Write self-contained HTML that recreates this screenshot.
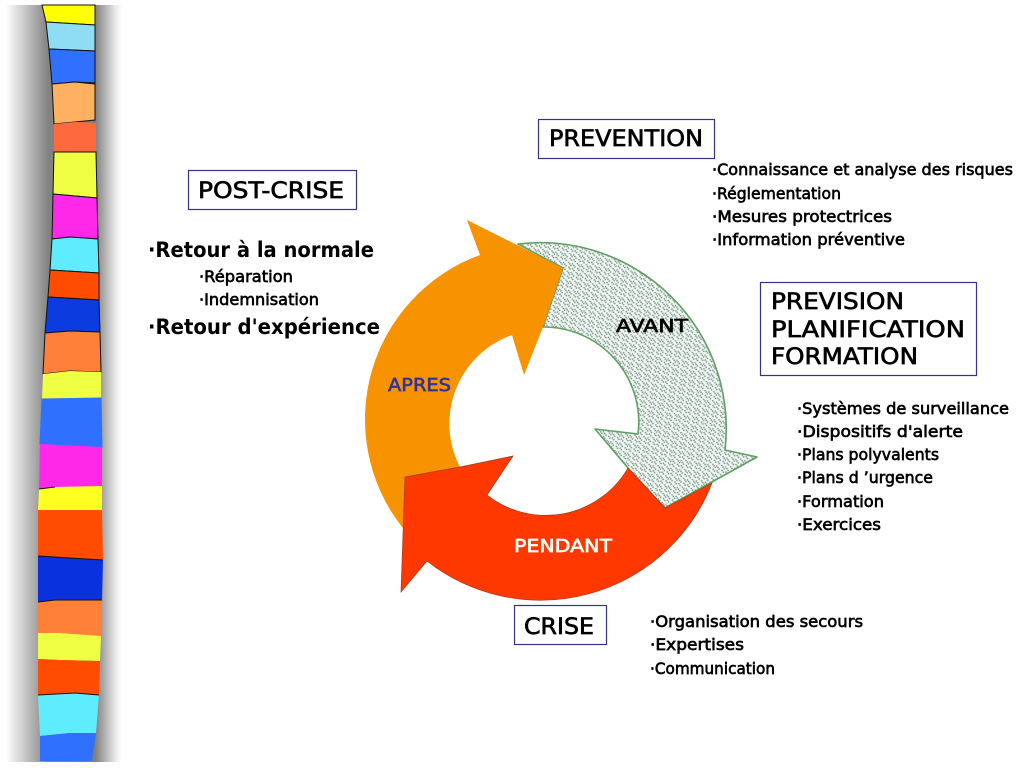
<!DOCTYPE html>
<html><head><meta charset="utf-8"><style>
html,body{margin:0;padding:0;background:#fff;width:1024px;height:768px;overflow:hidden}
svg{display:block}
text{font-family:"DejaVu Sans","Liberation Sans",sans-serif;fill:#000;stroke:#000;stroke-width:.65px}
</style></head><body>
<svg width="1024" height="768" viewBox="0 0 1024 768" xmlns="http://www.w3.org/2000/svg">
<defs>
<linearGradient id="sh" gradientUnits="userSpaceOnUse" x1="6" y1="0" x2="122" y2="0">
<stop offset="0" stop-color="#fff"/>
<stop offset=".12" stop-color="#d6d6d6"/>
<stop offset=".25" stop-color="#aaaaaa"/>
<stop offset=".36" stop-color="#828282"/>
<stop offset=".77" stop-color="#808080"/>
<stop offset=".85" stop-color="#b0b0b0"/>
<stop offset=".94" stop-color="#e8e8e8"/>
<stop offset="1" stop-color="#fff"/>
</linearGradient>
<pattern id="tx" width="9" height="9" patternUnits="userSpaceOnUse" patternTransform="rotate(8)">
<rect width="9" height="9" fill="#eef8f2"/>
<path d="M0 1l4 4M5 0l4 4M1 6l3 3M6 5l3 3" stroke="#7a8a82" stroke-width="1.5" stroke-dasharray="1.4 .7" fill="none"/>
</pattern>
</defs>

<rect x="6" y="5" width="116" height="757" fill="url(#sh)"/>

<g stroke-width="1" stroke="#111">
<polygon fill="#ffff00" points="42,5 95,5 95,25 46,22"/>
<polygon fill="#8fdcf5" points="46,22 95,25 95,51 49,49"/>
<polygon fill="#3070ff" points="49,49 95,51 95,83 75,82 52,84"/>
<polygon fill="#ffb060" points="52,84 75,82 95,84 95,120 75,122 54,124"/>
<polygon fill="#ff6a3c" points="54,124 75,122 96,123 96,152 54,152" stroke="none"/>
<polygon fill="#eeff44" points="54,152 96,152 97,198 53,194"/>
<polygon fill="#ff28e8" points="53,194 97,198 98,239 70,237 52,239"/>
<polygon fill="#60ecff" points="52,239 70,237 98,239 99,273 50,270"/>
<polygon fill="#ff4c00" points="50,270 99,273 99,300 48,297"/>
<polygon fill="#0a3ce0" points="48,297 99,300 100,332 70,331 45,333"/>
<polygon fill="#ff8038" points="45,333 70,331 100,332 101,372 70,371 43,374"/>
<polygon fill="#eeff44" points="43,374 70,371 101,372 101,398 42,399" stroke="none"/>
<polygon fill="#3070ff" points="42,399 101,398 102,447 40,444" stroke="#3070ff"/>
<polygon fill="#ff28e8" points="40,444 102,447 102,486 55,487 39,489" stroke="none"/>
<polygon fill="#ffff22" points="39,489 55,487 102,486 102,510 38,510" stroke="none"/>
<polygon fill="#ff4c00" points="38,510 102,510 103,560 70,558 38,556" stroke="none"/>
<polygon fill="#0a32dc" points="38,556 70,558 103,560 102,600 55,600 38,602" stroke="none"/>
<polygon fill="#ff8038" points="38,602 55,600 102,600 102,636 60,633 38,633" stroke="none"/>
<polygon fill="#eeff44" points="38,633 60,633 101,636 100,661 60,660 38,659" stroke="none"/>
<polygon fill="#ff4c00" points="38,659 60,660 100,661 99,695 75,693 38,695" stroke="none"/>
<polygon fill="#60ecff" points="38,695 75,693 99,695 96,733 70,733 40,736" stroke="none"/>
<polygon fill="#3070ff" points="40,736 70,733 96,733 92,761 40,761" stroke="none"/>
</g>
<path d="M39 489l16-2M38 556l32 2 33 2M38 602l17-2h47M38 695l37-2 24 2" fill="none" stroke="#111" stroke-width="1"/>

<!-- AVANT arrow -->
<path d="M518 244 A186 186 0 0 1 725 450 L757 457 L665 508 L628 468 L595 429 L638 434 A95 95 0 0 0 543 327 L563 268 Z" fill="url(#tx)" stroke="#5f9f64" stroke-width="1.6" stroke-linejoin="round"/>
<!-- ORANGE arrow -->
<path d="M467 220 L563 268 L543 327 L524 375 L512 335 A94 94 0 0 0 460 467 L420 480 L405 530 L402 527 A175 175 0 0 1 480 255 Z" fill="#f79200"/>
<!-- RED arrow -->
<path d="M405 477 L460 467 L513 456 L487 495 A95 95 0 0 0 628 468 L665 508 L712 483 A184 184 0 0 1 427 561 L401 592 Z" fill="#ff3800" stroke="#a03a1c" stroke-width=".7"/>

<!-- boxes -->
<g fill="#fff" stroke="#33338a" stroke-width="1.2">
<rect x="538.5" y="119.5" width="176" height="39"/>
<rect x="188.5" y="170.5" width="168" height="39"/>
<rect x="760.5" y="282.5" width="216" height="93"/>
<rect x="514.5" y="605.5" width="92" height="39"/>
</g>

<g font-size="22">
<text x="549" y="146" textLength="154" lengthAdjust="spacingAndGlyphs">PREVENTION</text>
<text x="198" y="198" textLength="146" lengthAdjust="spacingAndGlyphs">POST-CRISE</text>
<text x="771" y="309" textLength="133" lengthAdjust="spacingAndGlyphs">PREVISION</text>
<text x="771" y="337" textLength="194" lengthAdjust="spacingAndGlyphs">PLANIFICATION</text>
<text x="771" y="364" textLength="147" lengthAdjust="spacingAndGlyphs">FORMATION</text>
<text x="524" y="634" textLength="70" lengthAdjust="spacingAndGlyphs">CRISE</text>
</g>

<g font-size="21" font-weight="bold">
<text x="148" y="257" textLength="226" lengthAdjust="spacingAndGlyphs" style="stroke-width:0">·Retour à la normale</text>
<text x="148" y="334" textLength="232" lengthAdjust="spacingAndGlyphs" style="stroke-width:0">·Retour d'expérience</text>
</g>

<g font-size="16">
<text x="199" y="282" textLength="94" lengthAdjust="spacingAndGlyphs">·Réparation</text>
<text x="199" y="305" textLength="120" lengthAdjust="spacingAndGlyphs">·Indemnisation</text>
<text x="712" y="175" textLength="301" lengthAdjust="spacingAndGlyphs">·Connaissance et analyse des risques</text>
<text x="712" y="199" textLength="129" lengthAdjust="spacingAndGlyphs">·Réglementation</text>
<text x="712" y="222" textLength="180" lengthAdjust="spacingAndGlyphs">·Mesures protectrices</text>
<text x="712" y="245" textLength="193" lengthAdjust="spacingAndGlyphs">·Information préventive</text>
<text x="797" y="414" textLength="212" lengthAdjust="spacingAndGlyphs">·Systèmes de surveillance</text>
<text x="797" y="437" textLength="166" lengthAdjust="spacingAndGlyphs">·Dispositifs d'alerte</text>
<text x="797" y="460" textLength="142" lengthAdjust="spacingAndGlyphs">·Plans polyvalents</text>
<text x="797" y="483" textLength="136" lengthAdjust="spacingAndGlyphs">·Plans d ’urgence</text>
<text x="797" y="507" textLength="87" lengthAdjust="spacingAndGlyphs">·Formation</text>
<text x="797" y="530" textLength="84" lengthAdjust="spacingAndGlyphs">·Exercices</text>
<text x="650" y="627" textLength="213" lengthAdjust="spacingAndGlyphs">·Organisation des secours</text>
<text x="650" y="650" textLength="94" lengthAdjust="spacingAndGlyphs">·Expertises</text>
<text x="650" y="674" textLength="125" lengthAdjust="spacingAndGlyphs">·Communication</text>
</g>

<g font-size="18">
<text x="388" y="391" textLength="63" lengthAdjust="spacingAndGlyphs" style="fill:#333399;stroke:#333399">APRES</text>
<text x="616" y="332" textLength="72" lengthAdjust="spacingAndGlyphs">AVANT</text>
<text x="514" y="552" textLength="98" lengthAdjust="spacingAndGlyphs" style="fill:#fff;stroke:#fff">PENDANT</text>
</g>
</svg>
</body></html>
